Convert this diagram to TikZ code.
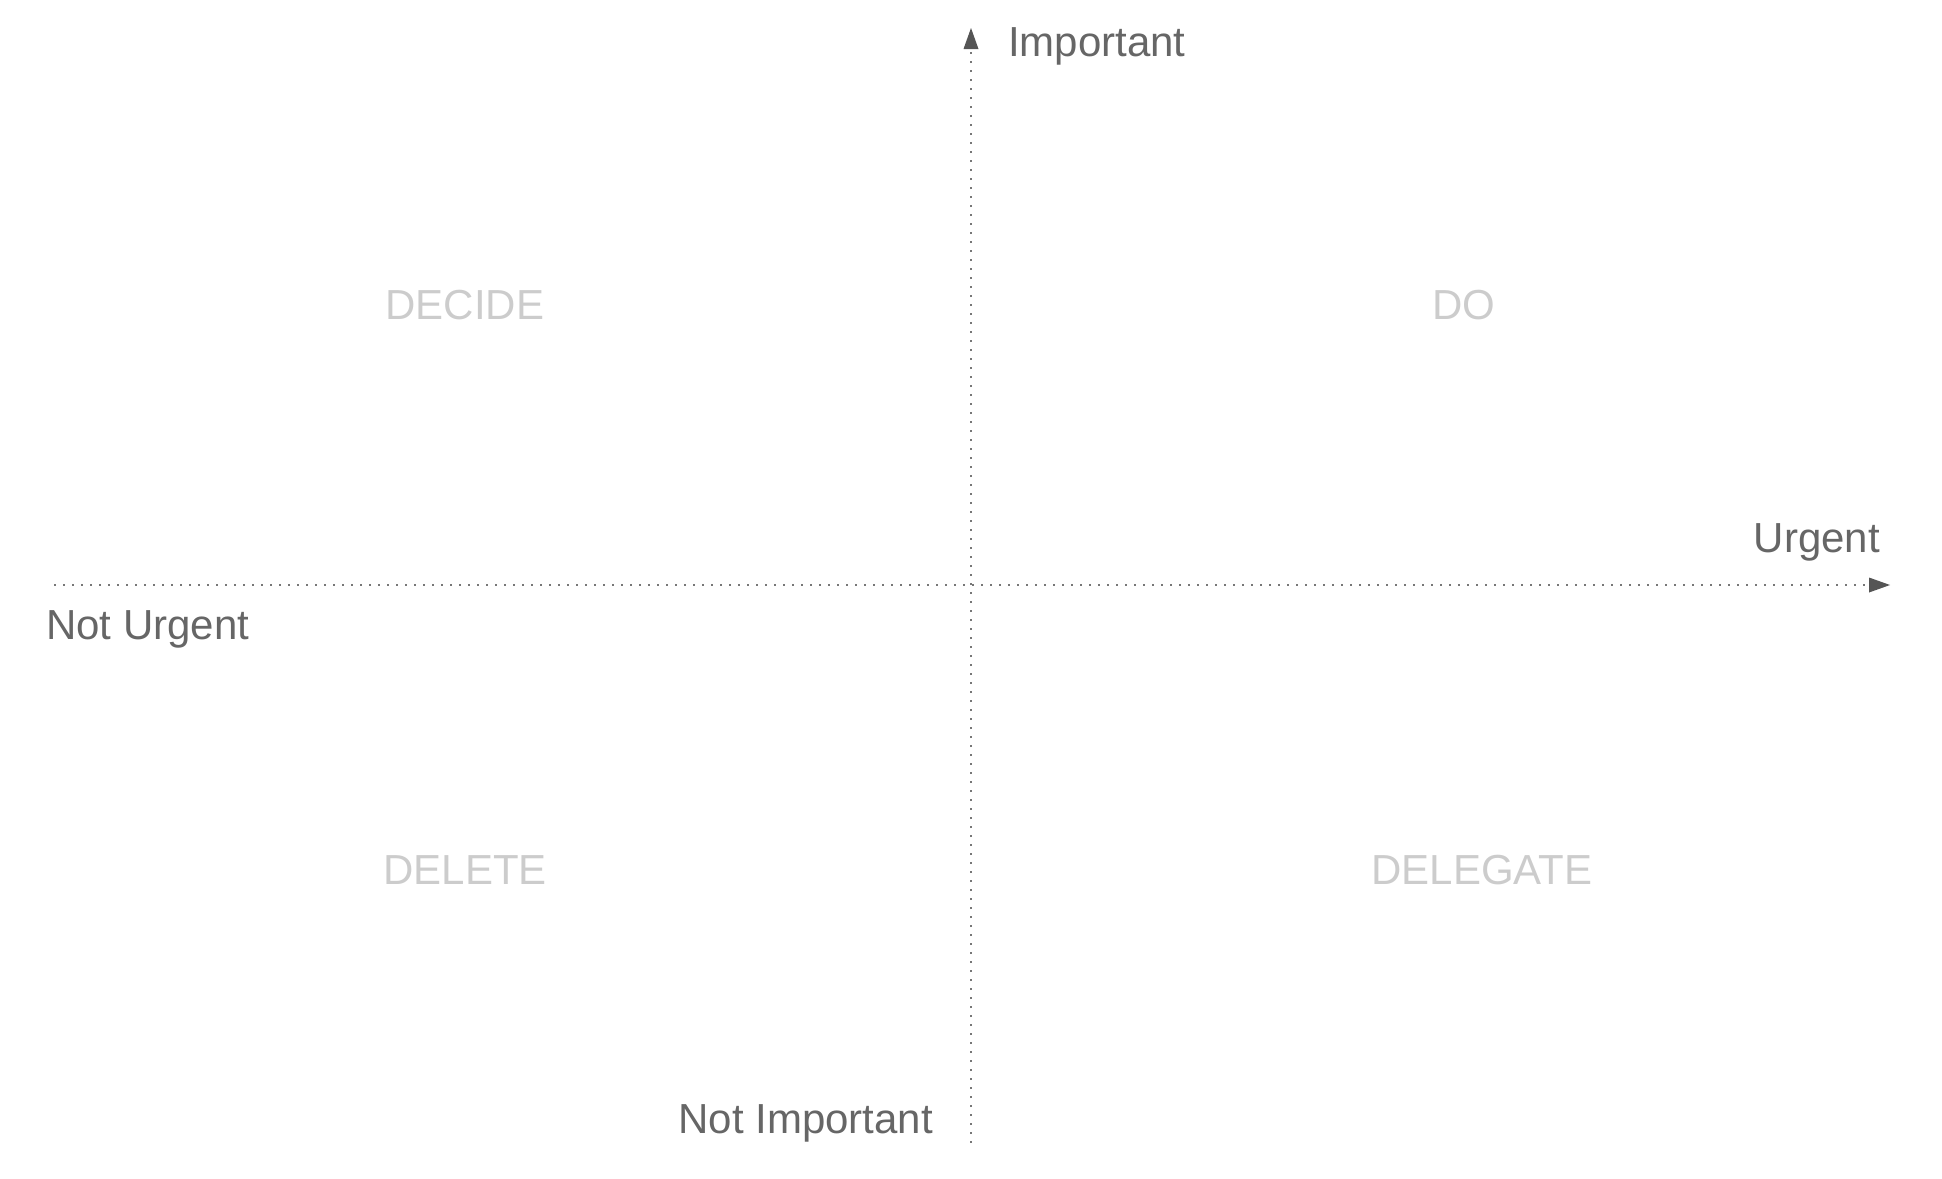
\documentclass[tikz,border=0pt]{standalone}
\usepackage{fontspec}
\setmainfont{Liberation Sans}
\usetikzlibrary{arrows.meta}
\definecolor{axistext}{HTML}{666666}
\definecolor{quadtext}{HTML}{CCCCCC}
\definecolor{axisline}{HTML}{777777}
\definecolor{tipcol}{HTML}{555555}
\begin{document}
\begin{tikzpicture}[x=1pt,y=-1pt,
  axislabel/.style={inner sep=0pt,text=axistext,font=\fontsize{42}{50}\selectfont},
  quadlabel/.style={inner sep=0pt,anchor=base,text=quadtext,font=\fontsize{42}{50}\selectfont},
  axisarrow/.style={draw=axisline,line width=1.6pt,dash pattern=on 1.6pt off 7.4pt,
    -{Triangle[length=21pt,width=15pt,color=tipcol,fill=tipcol,line width=0pt]}}]
\useasboundingbox (0,0) rectangle (1942,1178);
\coordinate (vbot) at (971,1143);
\coordinate (vtop) at (971,28);
\coordinate (hleft) at (54,585);
\coordinate (hright) at (1890,585);
\draw[axisarrow] (vbot) -- (vtop);
\draw[axisarrow] (hleft) -- (hright);
\node[axislabel,anchor=base west] (imp) at (1008,56) {Important};
\node[axislabel,anchor=base east] (urg) at (1880,552) {Urgent};
\node[axislabel,anchor=base west] (nurg) at (46,639) {Not Urgent};
\node[axislabel,anchor=base east] (nimp) at (933,1133) {Not Important};
\node[quadlabel] (decide) at (465,319) {DECIDE};
\node[quadlabel] (do) at (1464,319) {DO};
\node[quadlabel] (delete) at (465,884) {DELETE};
\node[quadlabel] (delegate) at (1482,884) {DELEGATE};
\end{tikzpicture}
\end{document}
